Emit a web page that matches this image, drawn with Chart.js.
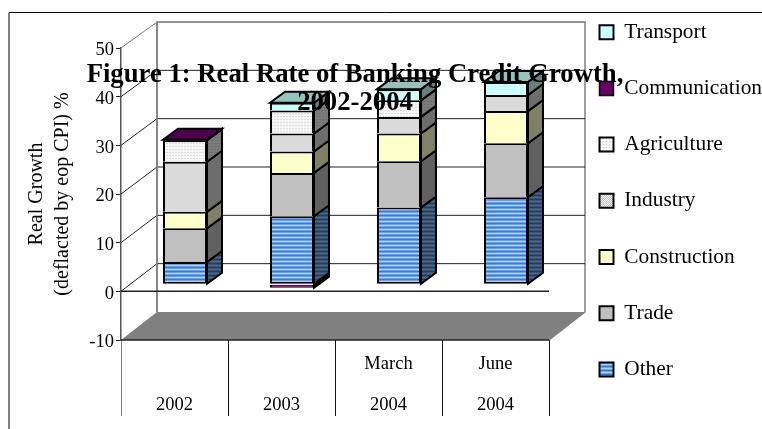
<!DOCTYPE html>
<html>
<head>
<meta charset="utf-8">
<title>Real Rate of Banking Credit Growth</title>
<script src="https://cdn.jsdelivr.net/npm/chart.js@4"></script>
<style>
  html, body { margin: 0; padding: 0; background: #fff; overflow: hidden; }
  canvas { display: block; }
</style>
</head>
<body>
<canvas id="credit-canvas" width="762" height="429"></canvas>
<script>
const periods = [['', '2002'], ['', '2003'], ['March', '2004'], ['June', '2004']]
const other = [4.6, 14.0, 15.8, 17.9]
const trade = [6.9, 8.9, 9.5, 11.1]
const construction = [3.4, 4.4, 5.7, 6.6]
const industry = [10.3, 3.7, 3.4, 3.3]
const agriculture = [4.4, 4.7, 3.4, null]
const communication = [0.1, -0.7, null, null]
const transport = [null, 1.6, 2.3, 2.7]

const titleLines = ['Figure 1: Real Rate of Banking Credit Growth,', '2002-2004']
const yAxisTitle = ['Real Growth', '(deflacted by eop CPI) %']

const serif = 'Liberation Serif'
Chart.defaults.font.family = serif
Chart.defaults.color = '#000'

// small repeating tiles for the hatched fills, darkened for the 3d faces
function tile(rows, shade) {
  const c = document.createElement('canvas')
  c.height = rows.length
  c.width = rows[0].length
  const ctx = c.getContext('2d')
  rows.forEach((row, y) => row.forEach((hex, x) => {
    const v = parseInt(hex.slice(1), 16)
    const r = Math.round((v >> 16) * shade)
    const g = Math.round(((v >> 8) & 255) * shade)
    const b = Math.round((v & 255) * shade)
    ctx.fillStyle = `rgb(${r},${g},${b})`
    ctx.fillRect(x, y, 1, 1)
  }))
  return ctx.createPattern(c, 'repeat')
}

const tiles = {
  other: [['#a8d0f8'], ['#6ca4e8'], ['#3c78c8'], ['#6ca4e8']],
  trade: [['#c0c0c0']],
  construction: [['#ffffcc']],
  industry: [['#f4f4f4', '#c0c0c0'], ['#c0c0c0', '#f4f4f4']],
  agriculture: [['#c4c4c4', '#f6f6f6', '#f6f6f6'], ['#f6f6f6', '#f6f6f6', '#f6f6f6'], ['#f6f6f6', '#f6f6f6', '#f6f6f6']],
  communication: [['#660066']],
  transport: [['#ccffff']]
}

// only the lowest segment needs its base edge, the rest share the one below
const dataset = (label, data, key, extra = {}) => ({
  label,
  data,
  key,
  backgroundColor: tile(tiles[key], 1),
  borderColor: '#000',
  borderWidth: 2,
  clip: false,
  ...extra
})

// the 3d box: bars sit a little behind the front axis, walls further back
const depth = { wallX: 36, barX: 10.5, barY: -7, sideX: 15, sideY: -11 }
const backY = (area, y) => 22 + (y - area.top) * 290 / 292

function path(ctx, points) {
  ctx.beginPath()
  points.forEach(([x, y], i) => (i ? ctx.lineTo(x, y) : ctx.moveTo(x, y)))
}

function line(ctx, points, color, width) {
  path(ctx, points)
  ctx.strokeStyle = color
  ctx.lineWidth = width
  ctx.stroke()
}

function face(ctx, points, fill) {
  path(ctx, points)
  ctx.closePath()
  ctx.fillStyle = fill
  ctx.fill()
  ctx.strokeStyle = '#000'
  ctx.lineWidth = 2
  ctx.stroke()
}

const boxPlugin = {
  id: 'box3d',
  beforeDraw(chart) {
    const { ctx } = chart
    ctx.save()
    ctx.fillStyle = '#fff'
    ctx.fillRect(0, 0, chart.width, chart.height)
    line(ctx, [[9, 429], [9, 12.5], [762, 12.5]], '#000', 1)
    ctx.restore()
  },
  afterLayout(chart) {
    // the key sits beside the walls and runs the full height of the frame
    const legend = chart.legend
    const pad = legend.options.labels.padding
    legend.left = 599.5 - pad
    legend.right = chart.width
    legend.top = 33 - 11.5 - pad
    legend.bottom = chart.height + 40
  },
  beforeDatasetsDraw(chart) {
    const { ctx, chartArea: area, scales } = chart
    const wx = area.left + depth.wallX
    const rx = area.right + depth.wallX
    const floorFront = scales.y.getPixelForValue(scales.y.min)
    const floorBack = backY(area, floorFront)

    ctx.save()
    path(ctx, [[area.left, floorFront], [area.right, floorFront], [rx, floorBack], [wx, floorBack]])
    ctx.closePath()
    ctx.fillStyle = '#808080'
    ctx.fill()
    line(ctx, [[wx, floorBack], [wx, backY(area, area.top)], [rx, backY(area, area.top)], [rx, floorBack], [area.right, floorFront]], '#808080', 1.5)

    scales.y.ticks.forEach(tick => {
      if (tick.value === scales.y.min) return
      const y = scales.y.getPixelForValue(tick.value)
      const color = tick.value === scales.y.max ? '#808080' : '#222'
      line(ctx, [[area.left, y], [wx, backY(area, y)], [rx, backY(area, y)]], color, 1)
    })
    line(ctx, [[wx, floorBack], [wx, backY(area, area.top)]], '#808080', 1.5)
    const zero = scales.y.getPixelForValue(0)
    line(ctx, [[area.left, zero], [area.right, zero]], '#222', 1.5)
    line(ctx, [[area.left, floorFront], [area.right, floorFront]], '#222', 1.5)

    // bars and their side faces share the shifted plane; restored after the lids
    ctx.translate(depth.barX, depth.barY)
    chart.data.datasets.forEach((ds, i) => {
      const side = tile(tiles[ds.key], 0.5)
      chart.getDatasetMeta(i).data.forEach((bar, j) => {
        if (!ds.data[j]) return
        const r = bar.x + bar.width / 2
        const top = Math.min(bar.y, bar.base)
        const bottom = Math.max(bar.y, bar.base)
        face(ctx, [[r, top], [r + depth.sideX, top + depth.sideY], [r + depth.sideX, bottom + depth.sideY], [r, bottom]], side)
      })
    })
  },
  afterDatasetsDraw(chart) {
    const { ctx, data } = chart
    periods.forEach((_, j) => {
      let i = data.datasets.length - 1
      while (i > 0 && !(data.datasets[i].data[j] > 0)) i--
      const bar = chart.getDatasetMeta(i).data[j]
      const l = bar.x - bar.width / 2
      const r = bar.x + bar.width / 2
      const lid = tile(tiles[data.datasets[i].key], 0.75)
      face(ctx, [[l, bar.y], [l + depth.sideX, bar.y + depth.sideY], [r + depth.sideX, bar.y + depth.sideY], [r, bar.y]], lid)
    })
    ctx.restore()
  },
  afterDraw(chart) {
    // heading runs across the plot, so it goes on last
    const { ctx } = chart
    ctx.save()
    ctx.fillStyle = '#000'
    ctx.font = `bold 26.7px "${serif}"`
    ctx.textAlign = 'center'
    ctx.textBaseline = 'alphabetic'
    ctx.fillText(titleLines[0], 355, 81.5)
    ctx.fillText(titleLines[1], 355, 110)
    ctx.restore()
  }
}

new Chart(document.querySelector('#credit-canvas'), {
  type: 'bar',
  plugins: [boxPlugin],
  data: {
    labels: periods,
    datasets: [
      dataset('Other', other, 'other', { borderSkipped: false }),
      dataset('Trade', trade, 'trade'),
      dataset('Construction', construction, 'construction'),
      dataset('Industry', industry, 'industry'),
      dataset('Agriculture', agriculture, 'agriculture'),
      dataset('Communication', communication, 'communication', { borderWidth: { top: 1, bottom: 1, left: 2, right: 2 } }),
      dataset('Transport', transport, 'transport')
    ]
  },
  options: {
    responsive: false,
    animation: false,
    layout: { padding: { top: 48, left: 0, right: 0, bottom: 0 } },
    datasets: { bar: { barPercentage: 0.411, categoryPercentage: 1 } },
    scales: {
      x: {
        stacked: true,
        afterFit(scale) { scale.height = 89 },
        border: { display: false },
        grid: {
          offset: true,
          drawOnChartArea: false,
          tickLength: 76,
          tickColor: ctx => (ctx.index === 0 || ctx.index === periods.length ? '#808080' : '#111'),
          tickWidth: 1
        },
        ticks: {
          autoSkip: false,
          maxRotation: 0,
          padding: -72,
          color: '#000',
          font: { size: 18.5, lineHeight: '41px' }
        }
      },
      y: {
        stacked: true,
        min: -10,
        max: 50,
        afterFit(scale) { scale.width = 121 },
        border: { color: '#555', width: 1.5 },
        grid: { drawOnChartArea: false, tickLength: 5, tickColor: '#222' },
        ticks: {
          stepSize: 10,
          padding: 2,
          color: '#000',
          // blank first line nudges the number down to sit just under its tick
          callback: value => ['', String(value)],
          font: { size: 18.5, lineHeight: '5px' }
        },
        title: {
          display: true,
          text: yAxisTitle,
          color: '#000',
          padding: { top: 24, bottom: 0 },
          font: { size: 20, lineHeight: '26px' }
        }
      }
    },
    plugins: {
      tooltip: { enabled: false },
      title: { display: false },
      legend: {
        position: 'right',
        align: 'start',
        reverse: true,
        maxWidth: 213,
        labels: {
          boxWidth: 14,
          boxHeight: 14,
          padding: 34.8,
          color: '#000',
          font: { size: 21.4, lineHeight: 1 }
        }
      }
    }
  }
})
</script>
</body>
</html>
